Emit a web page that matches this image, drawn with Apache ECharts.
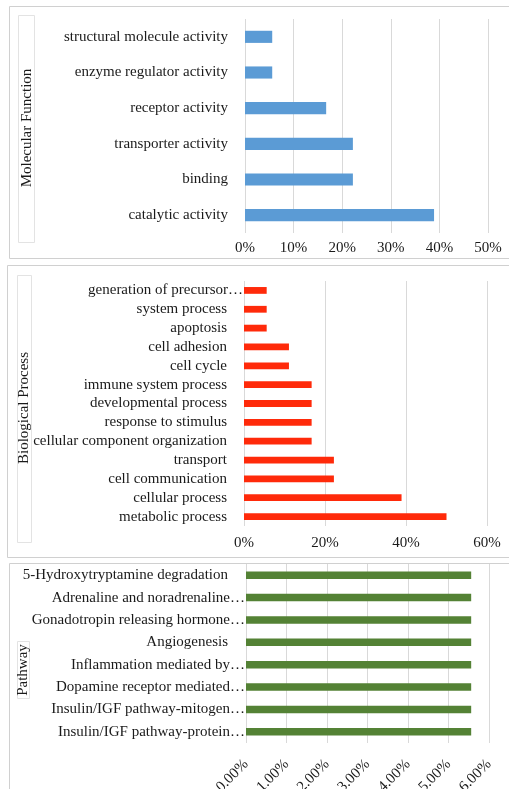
<!DOCTYPE html>
<html>
<head>
<meta charset="utf-8">
<script src="https://cdn.jsdelivr.net/npm/echarts@6/dist/echarts.min.js"></script>
<style>
  html, body { margin: 0; padding: 0; background: #fff; }
  #myChart { width: 509px; height: 789px; }
</style>
</head>
<body>
<div id="myChart"></div>
<script>
// Molecular Function (top to bottom)
var mfNames = ['structural molecule activity', 'enzyme regulator activity', 'receptor activity',
    'transporter activity', 'binding', 'catalytic activity'];
var mfValues = [5.6, 5.6, 16.7, 22.2, 22.2, 38.9];

// Biological Process (top to bottom)
var bpNames = ['generation of precursor…', 'system process', 'apoptosis', 'cell adhesion', 'cell cycle',
    'immune system process', 'developmental process', 'response to stimulus',
    'cellular component organization', 'transport', 'cell communication',
    'cellular process', 'metabolic process'];
var bpValues = [5.6, 5.6, 5.6, 11.1, 11.1, 16.7, 16.7, 16.7, 16.7, 22.2, 22.2, 38.9, 50.0];

// Pathway (top to bottom)
var pwNames = ['5-Hydroxytryptamine degradation', 'Adrenaline and noradrenaline…',
    'Gonadotropin releasing hormone…', 'Angiogenesis', 'Inflammation mediated by…',
    'Dopamine receptor mediated…', 'Insulin/IGF pathway-mitogen…', 'Insulin/IGF pathway-protein…'];
var pwValues = [5.56, 5.56, 5.56, 5.56, 5.56, 5.56, 5.56, 5.56];

var FONT = '"Liberation Serif", "Times New Roman", serif';
var FS = 15;
var TXT = '#1a1a1a';
var GRIDLINE = '#d9d9d9';

var myChart = echarts.init(document.getElementById('myChart'));

function catAxis(idx, names, pad) {
    return {
        type: 'category', gridIndex: idx, data: names, inverse: true,
        axisLine: {show: false}, axisTick: {show: false},
        axisLabel: {
            interval: 0, margin: pad ? 1 : 17, color: TXT, fontFamily: FONT, fontSize: FS,
            formatter: function (v) {
                if (!pad) return v;
                return v.indexOf('…') >= 0 ? '{t|' + v + '}' : '{n|' + v + '}';
            },
            rich: {
                t: {fontFamily: FONT, fontSize: FS, color: TXT},
                n: {fontFamily: FONT, fontSize: FS, color: TXT, padding: [0, pad || 0, 0, 0]}
            }
        }
    };
}

function valAxis(idx, max, step, fmt, rotate, margin) {
    return {
        type: 'value', gridIndex: idx, min: 0, max: max, interval: step,
        axisLine: {show: false}, axisTick: {show: false},
        splitLine: {lineStyle: {color: GRIDLINE, width: 1}},
        axisLabel: {
            color: TXT, fontFamily: FONT, fontSize: FS, rotate: rotate || 0, margin: margin,
            formatter: fmt
        }
    };
}

function sideTitle(text, cx, cy, box) {
    return [
        {type: 'rect', shape: box, style: {fill: '#fff', stroke: '#e3e3e3', lineWidth: 1}},
        {type: 'text', x: cx, y: cy, rotation: Math.PI / 2,
            style: {text: text, font: FS + 'px ' + FONT, fill: TXT, align: 'center', verticalAlign: 'middle'}}
    ];
}

var option = {
    animation: false,
    backgroundColor: '#fff',
    graphic: [
        {type: 'rect', shape: {x: 9.5, y: 6.5, width: 520, height: 252}, style: {fill: 'none', stroke: '#d0d0d0', lineWidth: 1}},
        {type: 'rect', shape: {x: 7.5, y: 265.5, width: 520, height: 292}, style: {fill: 'none', stroke: '#d0d0d0', lineWidth: 1}},
        {type: 'rect', shape: {x: 9.5, y: 563.5, width: 520, height: 260}, style: {fill: 'none', stroke: '#d0d0d0', lineWidth: 1}}
    ].concat(
        sideTitle('Molecular Function', 27, 128, {x: 18.5, y: 15.5, width: 16, height: 227}),
        sideTitle('Biological Process', 24, 408, {x: 17.5, y: 275.5, width: 14, height: 267}),
        sideTitle('Pathway', 23, 670, {x: 17.5, y: 641.5, width: 12, height: 57})
    ),
    grid: [
        {left: 245, right: 21, top: 19, height: 214, outerBoundsMode: 'none'},
        {left: 244, right: 22, top: 281, height: 245, outerBoundsMode: 'none'},
        {left: 246, right: 20, top: 564, height: 179, outerBoundsMode: 'none'}
    ],
    xAxis: [
        valAxis(0, 50, 10, function (v) { return v + '%'; }, 0, 8),
        valAxis(1, 60, 20, function (v) { return v + '%'; }, 0, 10),
        valAxis(2, 6, 1, function (v) { return v.toFixed(2) + '%'; }, 45, 19)
    ],
    yAxis: [
        catAxis(0, mfNames, 0),
        catAxis(1, bpNames, 16),
        catAxis(2, pwNames, 17)
    ],
    series: [
        {type: 'bar', xAxisIndex: 0, yAxisIndex: 0, data: mfValues, barCategoryGap: '66%',
            itemStyle: {color: '#5b9bd5'}},
        {type: 'bar', xAxisIndex: 1, yAxisIndex: 1, data: bpValues, barCategoryGap: '64%',
            itemStyle: {color: '#ff2a0a'}},
        {type: 'bar', xAxisIndex: 2, yAxisIndex: 2, data: pwValues, barCategoryGap: '66%',
            itemStyle: {color: '#548235'}}
    ]
};
myChart.setOption(option);
</script>
</body>
</html>
